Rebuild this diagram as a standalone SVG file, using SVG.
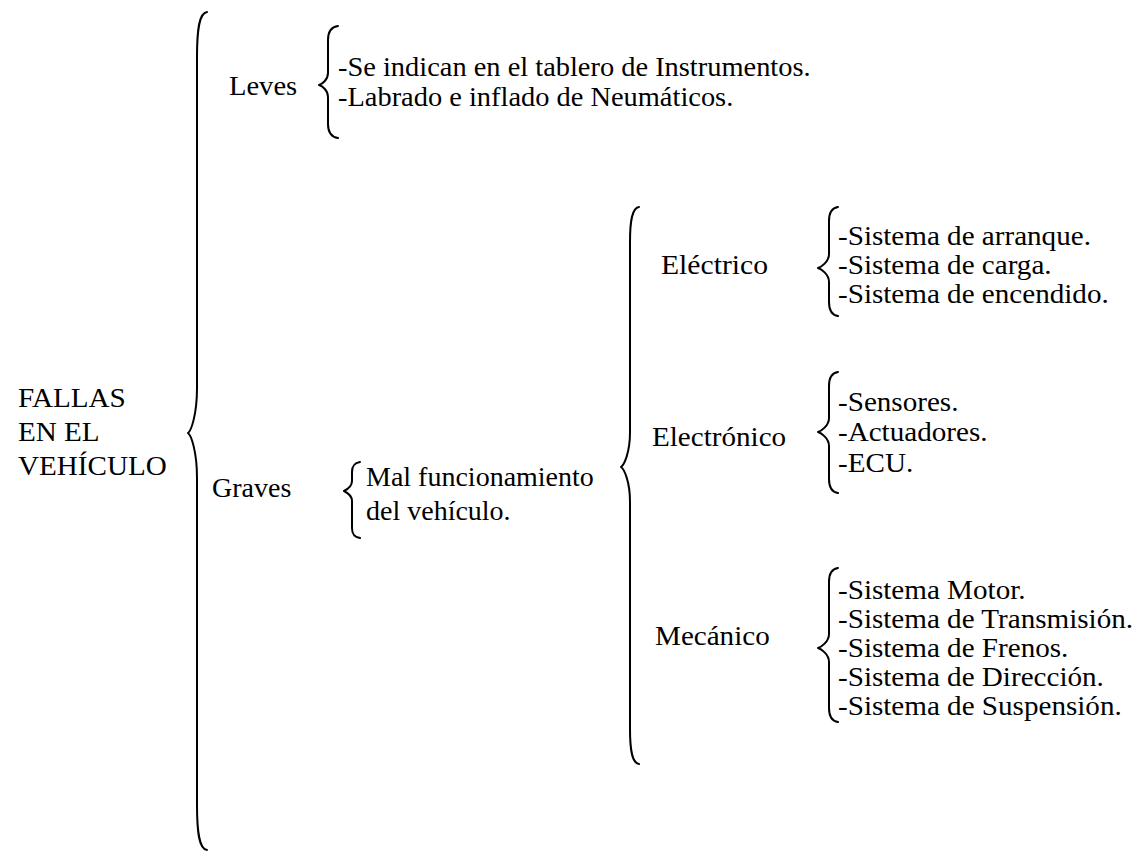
<svg xmlns="http://www.w3.org/2000/svg" width="1144" height="851" viewBox="0 0 1144 851">
  <style>
    .lbl { font-family: "Liberation Serif", "DejaVu Serif", serif; font-size: 28px; fill: #000; }
    .brace { fill: none; stroke: #000; stroke-width: 2; stroke-linecap: round; stroke-linejoin: round; }
  </style>
  <rect width="1144" height="851" fill="#fff"/>

  <!-- curly braces linking each level to its branches -->
  <g id="connectors">
    <path class="brace" d="M207,12 C199,13 197,30 197,57 L197,388 C197,415 191,431 188,433 C191,435 197,451 197,478 L197,805 C197,832 199,849 207,850"/>
    <path class="brace" d="M338,26 C331,27 328,32 328,40 L328,73 C328,80 322,84 319,85 C322,86 328,90 328,97 L328,124 C328,132 331,137 338,138"/>
    <path class="brace" d="M360,462 C354,463 352,466 352,472 L352,481 C352,487 346,490 344,491 C346,492 352,495 352,501 L352,528 C352,534 354,537 360,538"/>
    <path class="brace" d="M639,207 C632,208 630,221 630,242 L630,432 C630,453 624,465 621,467 C624,469 630,481 630,502 L630,729 C630,750 632,763 639,764"/>
    <path class="brace" d="M838,207 C831,208 829,213 829,221 L829,254 C829,262 821,267 818,268 C821,269 829,274 829,282 L829,302 C829,310 831,315 838,316"/>
    <path class="brace" d="M838,372 C831,373 829,378 829,386 L829,418 C829,426 821,431 818,432 C821,433 829,438 829,446 L829,479 C829,487 831,492 838,493"/>
    <path class="brace" d="M838,568 C831,569 829,574 829,582 L829,634 C829,642 821,647 818,648 C821,649 829,654 829,662 L829,708 C829,716 831,721 838,722"/>
  </g>

  <!-- each label block is placed by translate and set slightly wide by scale -->
  <g class="lbl" font-family="Liberation Serif, serif">
    <g id="root" transform="translate(18 0) scale(1.04 1)">
      <text x="0" y="407">FALLAS</text>
      <text x="0" y="441">EN EL</text>
      <text x="0" y="475">VEHÍCULO</text>
    </g>

    <g id="leves" transform="translate(229 0) scale(1.02 1)">
      <text x="0" y="95">Leves</text>
    </g>
    <g id="leves-items" transform="translate(338 0) scale(1.015 1)">
      <text x="0" y="76">-Se indican en el tablero de Instrumentos.</text>
      <text x="0" y="106">-Labrado e inflado de Neumáticos.</text>
    </g>

    <g id="graves" transform="translate(212 0)">
      <text x="0" y="497">Graves</text>
    </g>
    <g id="graves-desc" transform="translate(366 0)">
      <text x="0" y="486">Mal funcionamiento</text>
      <text x="0" y="520">del vehículo.</text>
    </g>

    <g id="electrico" transform="translate(661 0) scale(1.06 1)">
      <text x="0" y="274">Eléctrico</text>
    </g>
    <g id="electrico-items" transform="translate(838 0) scale(1.04 1)">
      <text x="0" y="245">-Sistema de arranque.</text>
      <text x="0" y="274">-Sistema de carga.</text>
      <text x="0" y="303">-Sistema de encendido.</text>
    </g>

    <g id="electronico" transform="translate(652 0) scale(1.04 1)">
      <text x="0" y="446">Electrónico</text>
    </g>
    <g id="electronico-items" transform="translate(838 0) scale(1.04 1)">
      <text x="0" y="411">-Sensores.</text>
      <text x="0" y="441">-Actuadores.</text>
      <text x="0" y="472">-ECU.</text>
    </g>

    <g id="mecanico" transform="translate(655 0) scale(1.04 1)">
      <text x="0" y="645">Mecánico</text>
    </g>
    <g id="mecanico-items" transform="translate(838 0) scale(1.04 1)">
      <text x="0" y="599">-Sistema Motor.</text>
      <text x="0" y="628">-Sistema de Transmisión.</text>
      <text x="0" y="657">-Sistema de Frenos.</text>
      <text x="0" y="686">-Sistema de Dirección.</text>
      <text x="0" y="715">-Sistema de Suspensión.</text>
    </g>
  </g>
</svg>
